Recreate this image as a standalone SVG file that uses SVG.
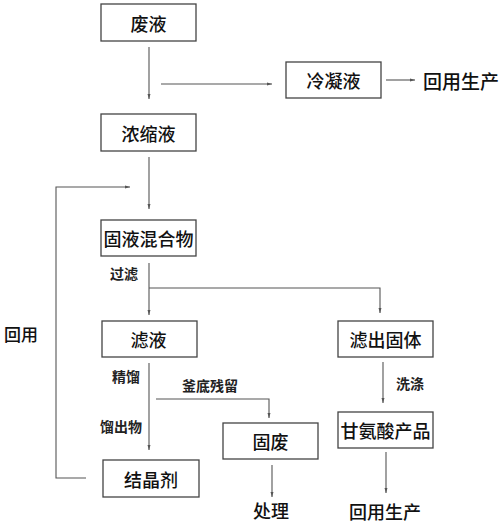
<svg xmlns="http://www.w3.org/2000/svg" width="500" height="523" viewBox="0 0 500 523">
<defs>
<marker id="ah" viewBox="0 0 10 10" refX="10" refY="5" markerWidth="5" markerHeight="5" orient="auto" markerUnits="userSpaceOnUse">
<path d="M0,2 L10,5 L0,8 z" fill="#555"/>
</marker>
</defs>
<style>
.box{fill:#fff;stroke:#444;stroke-width:1.3}
.t{font-family:"Noto Sans CJK SC","Noto Sans",sans-serif;font-size:18px;font-weight:500;fill:#111;text-anchor:middle;dominant-baseline:central}
.l{font-family:"Noto Sans CJK SC","Noto Sans",sans-serif;font-size:14px;font-weight:bold;fill:#222;dominant-baseline:central}
.c{fill:none;stroke:#555;stroke-width:1.1}
</style>
<rect width="500" height="523" fill="#fff"/>
<g id="connectors">
<path class="c" d="M149,47 V99" marker-end="url(#ah)"/>
<path class="c" d="M161,84 H272" marker-end="url(#ah)"/>
<path class="c" d="M386,80 H415" marker-end="url(#ah)"/>
<path class="c" d="M149,157 V209" marker-end="url(#ah)"/>
<path class="c" d="M86,478 H56 V187 H130" marker-end="url(#ah)"/>
<path class="c" d="M149,263 V315" marker-end="url(#ah)"/>
<path class="c" d="M149,288 H380 V313" marker-end="url(#ah)"/>
<path class="c" d="M149,363 V450" marker-end="url(#ah)"/>
<path class="c" d="M156,399 H269 V418" marker-end="url(#ah)"/>
<path class="c" d="M383,362 V403" marker-end="url(#ah)"/>
<path class="c" d="M272,465 V497" marker-end="url(#ah)"/>
<path class="c" d="M386,452 V493" marker-end="url(#ah)"/>
</g>
<g id="n-feiye"><rect class="box" x="101" y="4" width="95" height="37"/><text class="t" x="148.5" y="22.5">废液</text></g>
<g id="n-lengningye"><rect class="box" x="286" y="62" width="95" height="36"/><text class="t" x="333.5" y="80">冷凝液</text></g>
<g id="n-huiyong1"><text class="t" x="461" y="80" style="font-size:19px">回用生产</text></g>
<g id="n-nongsuoye"><rect class="box" x="101" y="114" width="95" height="37"/><text class="t" x="148.5" y="132.5">浓缩液</text></g>
<g id="n-guye"><rect class="box" x="101" y="220" width="95" height="36"/><text class="t" x="148.5" y="238">固液混合物</text></g>
<g id="n-lvye"><rect class="box" x="102" y="321" width="95" height="36"/><text class="t" x="148.5" y="339">滤液</text></g>
<g id="n-lvchu"><rect class="box" x="338" y="321" width="95" height="36"/><text class="t" x="385.5" y="339">滤出固体</text></g>
<g id="n-gufei"><rect class="box" x="223" y="423" width="95" height="36"/><text class="t" x="270.5" y="441">固废</text></g>
<g id="n-jiejing"><rect class="box" x="103" y="460" width="96" height="37"/><text class="t" x="151" y="478.5">结晶剂</text></g>
<g id="n-gan"><rect class="box" x="338" y="412" width="95" height="36"/><text class="t" x="385.5" y="430">甘氨酸产品</text></g>
<g id="n-chuli"><text class="t" x="271" y="510">处理</text></g>
<g id="n-huiyong2"><text class="t" x="385" y="511">回用生产</text></g>
<g id="labels">
<text class="l" x="110" y="273">过滤</text>
<text class="t" x="21" y="333" style="font-size:17px">回用</text>
<text class="l" x="112" y="376">精馏</text>
<text class="l" x="182" y="385">釜底残留</text>
<text class="l" x="100" y="426">馏出物</text>
<text class="l" x="396" y="383">洗涤</text>
</g>
</svg>
